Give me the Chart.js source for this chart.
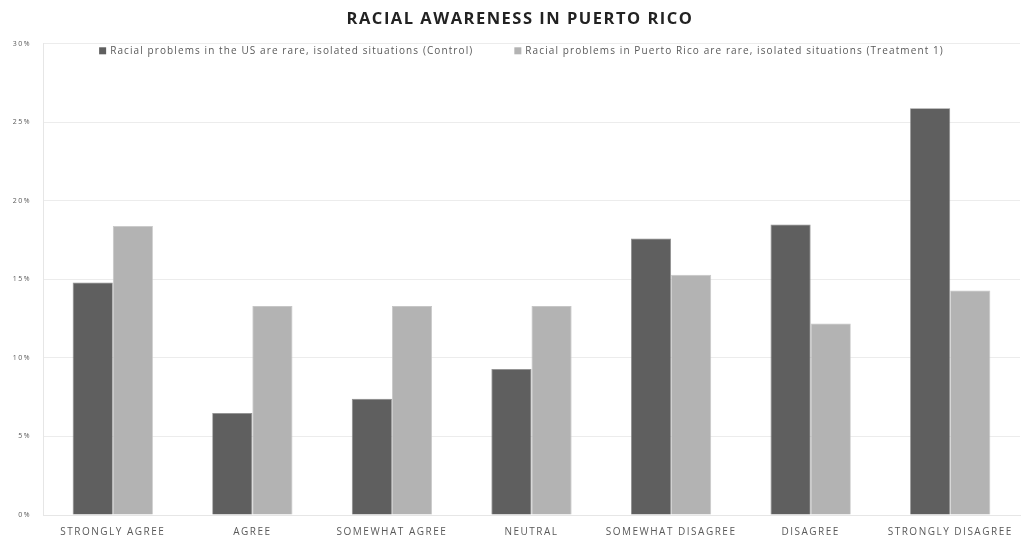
<!DOCTYPE html>
<html>
<head>
<meta charset="utf-8">
<script src="https://cdn.jsdelivr.net/npm/chart.js@4"></script>
<style>
html,body{margin:0;padding:0;background:#fff;}
#wrap{width:1029px;height:537px;}
</style>
</head>
<body>
<div id="wrap"><canvas id="c"></canvas></div>
<script>
const categories = ["STRONGLY AGREE","AGREE","SOMEWHAT AGREE","NEUTRAL","SOMEWHAT DISAGREE","DISAGREE","STRONGLY DISAGREE"];
const controlValues = [14.8, 6.5, 7.4, 9.3, 17.6, 18.5, 25.9];
const treatmentValues = [18.4, 13.3, 13.3, 13.3, 15.3, 12.2, 14.3];
const seriesLabels = ["Racial problems in the US are rare, isolated situations (Control)", "Racial problems in Puerto Rico are rare, isolated situations (Treatment 1)"];
const yTicks = [0, 5, 10, 15, 20, 25, 30];
const chartTitle = "RACIAL AWARENESS IN PUERTO RICO";

const spacingPlugin = {
  id: 'spacing',
  afterLayout(chart) { if (chart.titleBlock) { chart.titleBlock.left = 20; } },
  beforeDraw(chart) { chart.ctx.letterSpacing = '1.5px'; },
  beforeDatasetsDraw(chart) { chart.ctx.letterSpacing = '0px'; }
};

const legendPlugin = {
  id: 'inlegend',
  afterDraw(chart) {
    const ctx = chart.ctx;
    const area = chart.chartArea;
    ctx.save();
    ctx.letterSpacing = '1.1px';
    ctx.font = '10px "Open Sans"';
    ctx.textBaseline = 'middle';
    const box = 7, boxGap = 4, itemGap = 41;
    const items = chart.data.datasets.map(d => ({label: d.label, color: d.backgroundColor, w: ctx.measureText(d.label).width}));
    let total = 0;
    items.forEach((it, i) => { total += box + boxGap + it.w + (i < items.length - 1 ? itemGap : 0); });
    let x = (area.left + area.right) / 2 - total / 2 - 10;
    const y = area.top + 7;
    items.forEach(it => {
      ctx.fillStyle = it.color;
      ctx.fillRect(x, y - box / 2, box, box);
      x += box + boxGap;
      ctx.fillStyle = '#595959';
      ctx.fillText(it.label, x, y);
      x += it.w + itemGap;
    });
    ctx.restore();
  }
};

new Chart(document.getElementById('c'), {
  type: 'bar',
  data: {
    labels: categories,
    datasets: [
      {label: seriesLabels[0], data: controlValues, backgroundColor: '#5f5f5f', borderColor: '#8a8a8a', borderWidth: 0.8},
      {label: seriesLabels[1], data: treatmentValues, backgroundColor: '#b3b3b3', borderColor: '#c6c6c6', borderWidth: 0.8}
    ]
  },
  options: {
    responsive: true,
    maintainAspectRatio: false,
    animation: false,
    layout: {padding: {left: 0, right: 9, top: 0, bottom: 0}},
    datasets: {bar: {categoryPercentage: 0.575, barPercentage: 1.0}},
    plugins: {
      legend: {display: false},
      tooltip: {enabled: false},
      title: {
        display: true,
        text: chartTitle,
        color: '#222',
        font: {family: '"Open Sans"', size: 16.5, weight: 'bold'},
        padding: {top: 9, bottom: 15}
      }
    },
    scales: {
      x: {
        grid: {display: false, drawTicks: false},
        border: {color: '#e6e6e6'},
        ticks: {color: '#595959', font: {family: '"Open Sans"', size: 10}, padding: 11, maxRotation: 0, autoSkip: false},
        afterFit(s) { s.height = 22; }
      },
      y: {
        min: 0, max: 30,
        afterBuildTicks(s) { s.ticks = yTicks.map(v => ({value: v})); },
        grid: {color: '#ececec', drawTicks: false},
        border: {color: '#e6e6e6'},
        ticks: {color: '#595959', font: {family: '"Open Sans"', size: 7}, padding: 12, callback: v => v + '%'},
        afterFit(s) { s.width = 43; }
      }
    }
  },
  plugins: [spacingPlugin, legendPlugin]
});
</script>
</body>
</html>
